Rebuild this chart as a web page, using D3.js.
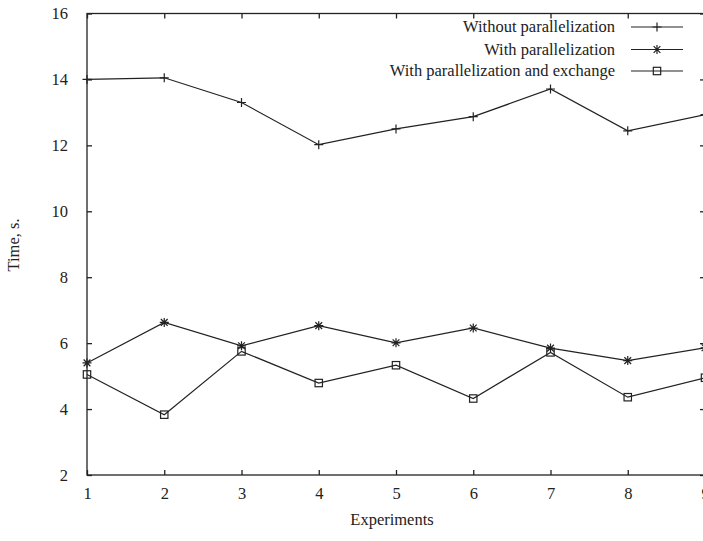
<!DOCTYPE html>
<html><head><meta charset="utf-8">
<script src="https://cdn.jsdelivr.net/npm/d3@7"></script>
</head><body style="margin:0;background:#fff"><svg id="c" width="703" height="541" style="display:block;font-family:'Liberation Serif','Times New Roman',Tinos,serif"></svg>
<script>
const experiments = [1,2,3,4,5,6,7,8,9];
const withoutPar = [14.0,14.05,13.3,12.02,12.5,12.87,13.71,12.44,12.93];
const withPar = [5.4,6.63,5.92,6.53,6.01,6.46,5.85,5.47,5.86];
const withParExch = [5.05,3.83,5.75,4.79,5.33,4.32,5.72,4.36,4.95];
const yTicks = [2,4,6,8,10,12,14,16];
const xTicks = [1,2,3,4,5,6,7,8,9];
const seriesNames = ["Without parallelization","With parallelization","With parallelization and exchange"];

const svg = d3.select("#c");
const L=87, R=705, T=13.5, B=475;
const x = d3.scaleLinear().domain([1,9]).range([L,R]);
const y = d3.scaleLinear().domain([2,16]).range([B,T]);
const stroke="#222";
const ff="'Liberation Serif','Times New Roman',Tinos,serif";
const fs=16.5;

function styleText(sel){
  sel.style("font-family",ff).attr("font-family",null).style("font-size",fs+"px").attr("fill","#222");
  return sel;
}

svg.append("rect").attr("x",L).attr("y",T).attr("width",R-L).attr("height",B-T)
  .attr("fill","none").attr("stroke",stroke).attr("stroke-width",1.3);

const yl = svg.append("g").attr("transform",`translate(${L},0)`)
  .call(d3.axisLeft(y).tickValues(yTicks).tickSize(-5).tickPadding(19).tickFormat(d3.format("d")));
const yr = svg.append("g").attr("transform",`translate(${R},0)`)
  .call(d3.axisRight(y).tickValues(yTicks).tickSize(-5).tickFormat(""));
const xb = svg.append("g").attr("transform",`translate(0,${B})`)
  .call(d3.axisBottom(x).tickValues(xTicks).tickSize(-5).tickPadding(12).tickFormat(d3.format("d")));
const xt = svg.append("g").attr("transform",`translate(0,${T})`)
  .call(d3.axisTop(x).tickValues(xTicks).tickSize(-5).tickFormat(""));
[yl,yr,xb,xt].forEach(g=>{
  g.attr("font-family",null).attr("font-size",null);
  g.select(".domain").remove();
  g.selectAll("line").attr("stroke",stroke).attr("stroke-width",1.3);
  styleText(g.selectAll("text"));
});

styleText(svg.append("text").attr("x",392).attr("y",525).attr("text-anchor","middle").text("Experiments"));
styleText(svg.append("text").attr("transform","translate(19,245) rotate(-90)").attr("text-anchor","middle").text("Time, s."));

function plus(g,cx,cy){g.append("path").attr("d",`M${cx-4.5},${cy}H${cx+4.5}M${cx},${cy-4.5}V${cy+4.5}`).attr("stroke",stroke).attr("stroke-width",1.2).attr("fill","none");}
function star(g,cx,cy){const s=4.5;g.append("path").attr("d",`M${cx-s},${cy}H${cx+s}M${cx},${cy-s}V${cy+s}M${cx-s*0.75},${cy-s*0.75}L${cx+s*0.75},${cy+s*0.75}M${cx-s*0.75},${cy+s*0.75}L${cx+s*0.75},${cy-s*0.75}`).attr("stroke",stroke).attr("stroke-width",1.2).attr("fill","none");}
function square(g,cx,cy){g.append("rect").attr("x",cx-3.7).attr("y",cy-3.7).attr("width",7.4).attr("height",7.4).attr("fill","none").attr("stroke",stroke).attr("stroke-width",1.2);}
const markers=[plus,star,square];
const data=[withoutPar,withPar,withParExch];
const line=d3.line().x((d,i)=>x(experiments[i])).y(d=>y(d));
data.forEach((vals,k)=>{
  const g=svg.append("g");
  g.append("path").datum(vals).attr("d",line).attr("fill","none").attr("stroke",stroke).attr("stroke-width",1.2);
  vals.forEach((v,i)=>markers[k](g,x(experiments[i]),y(v)));
});

const legY=[27,49.5,71];
seriesNames.forEach((n,k)=>{
  const g=svg.append("g");
  styleText(g.append("text").attr("x",615).attr("y",legY[k]).attr("dy","0.32em").attr("text-anchor","end").text(n));
  g.append("line").attr("x1",631).attr("x2",683).attr("y1",legY[k]).attr("y2",legY[k]).attr("stroke",stroke).attr("stroke-width",1.2);
  markers[k](g,657,legY[k]);
});
</script></body></html>
